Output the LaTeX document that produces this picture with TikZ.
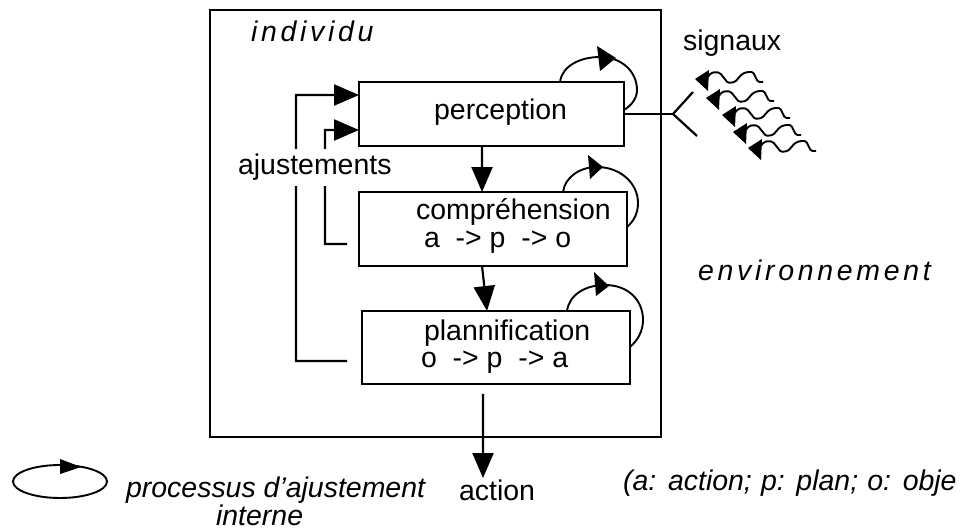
\documentclass[tikz,border=0pt]{standalone}
\usepackage{fontspec}
\setmainfont{Liberation Sans}
\newfontfamily\trackedfont[LetterSpace=13.0]{Liberation Sans}
\usetikzlibrary{arrows.meta,calc}
\begin{document}
\begin{tikzpicture}[x=0.02cm, y=-0.02cm, line width=0.044cm,
  txt/.style={font=\fontsize{16.2}{19}\selectfont, inner sep=0, anchor=base west},
  itx/.style={txt, font=\fontsize{16.2}{19}\selectfont\itshape},
  tracked/.style={txt, font=\fontsize{16.2}{19}\trackedfont\itshape},
  box/.style={draw, inner sep=0, outer sep=0},
  arr/.style={-{Triangle[length=0.50cm,width=0.42cm]}},
  wave/.style={rounded corners=0.03cm, line width=0.038cm},
  loopline/.style={line width=0.038cm},
  head/.style={fill=black, draw=none}]

\useasboundingbox (0,0) rectangle (964,530);

% the individual and its three processing stages
\node[box, minimum width=9.02cm, minimum height=8.54cm] (indiv) at (435.5,223.5) {};
\node[box, minimum width=5.30cm, minimum height=1.28cm] (perc) at (491.5,114) {};
\node[box, minimum width=5.36cm, minimum height=1.48cm] (comp) at (493,229) {};
\node[box, minimum width=5.36cm, minimum height=1.46cm] (plan) at (496,347.5) {};

% texts
\node[tracked] (lindiv) at (250,42) {individu};
\node[txt] (lsig) at (682,51) {signaux};
\node[txt] (lperc) at (433,120) {perception};
\node[txt] (lcomp1) at (415,220) {compréhension};
\node[txt] (lcomp2) at (423,248) {a\ \ ->\ p\ \ ->\ o};
\node[txt] (lplan1) at (423,340) {plannification};
\node[txt] (lplan2) at (420,368) {o\ \ ->\ p\ \ ->\ a};
\node[tracked] (lenv) at (697,281) {environnement};
\node[itx] (lproc) at (125,497) {processus d'ajustement};
\node[itx] (lint) at (215,525) {interne};
\node[txt] (lact) at (458,500) {action};
\node[itx] (lkey) at (622,490) {\spaceskip=0.32em\relax(a: action; p: plan; o: obje};

% flow between stages
\draw[arr] ($(perc.south west)+(123,0)$) -- ($(comp.north west)+(123,0)$);
\draw[arr] ($(comp.south west)+(123,0)$) -- ($(plan.north west)+(125,0)$);
\coordinate (actStart) at ($(plan.south west)+(121,10)$);
\coordinate (actEnd) at (483,478);
\draw[arr] (actStart) -- (actEnd);

% feedback adjustments
\coordinate (adjOut) at ($(plan.west)+(-15,13.5)$);
\coordinate (adjIn) at ($(comp.west)+(-12,15)$);
\draw[arr] (adjOut) -| (296,95) -- ($(perc.north west)+(0,13)$);
\draw[arr] (adjIn) -| (325,130) -- ($(perc.north west)+(0,48)$);
\node[txt, fill=white, inner ysep=0.1cm, inner xsep=0] (ladj) at (237,175) {ajustements};

% internal adjustment loops
\draw[loopline] ($(perc.north west)+(201,0)$) .. controls (562,66) and (580,57) .. (600,57)
  .. controls (622,57) and (637,72) .. (637,90) .. controls (637,98) and (632,105) .. ($(perc.north east)+(0,28)$);
\fill[head] (597,46) -- (616,58) -- (600,71) -- cycle;

\draw[loopline] ($(comp.north west)+(204,0)$) .. controls (565,177) and (580,167) .. (597,167)
  .. controls (620,167) and (638,183) .. (638,203) .. controls (638,213) and (634,221) .. ($(comp.north east)+(0,35)$);
\fill[head] (588,155) -- (603,167) -- (590,179) -- cycle;

\draw[loopline] ($(plan.north west)+(205,0)$) .. controls (569,295) and (585,285) .. (605,285)
  .. controls (628,285) and (643,300) .. (643,320) .. controls (643,332) and (637,341) .. ($(plan.north east)+(0,36)$);
\fill[head] (594,272) -- (609,286) -- (596,296) -- cycle;

% incoming signals from the environment
\coordinate (recv) at (673,114);
\draw (perc.east) -- (recv);
\draw (693,92) -- (recv) -- (697,136);
\foreach \p in {(695,79),(706,98),(722,115),(733,132),(748,148)} {
  \fill[head] \p -- ++(14,-9) -- ++(-1,21) -- cycle;
  \draw[wave] \p ++(12,-1) -- ++(4,-5) -- ++(5,-1) -- ++(4,1) -- ++(8,10) -- ++(7,-1)
    -- ++(7,-8) -- ++(5,-2) -- ++(6,0) -- ++(5,10) -- ++(5,0);
}

% legend
\draw[loopline] (60,481.5) ellipse [x radius=0.94cm, y radius=0.33cm];
\fill[head] (60,459) -- (81,467) -- (60,474) -- cycle;
\end{tikzpicture}
\end{document}
